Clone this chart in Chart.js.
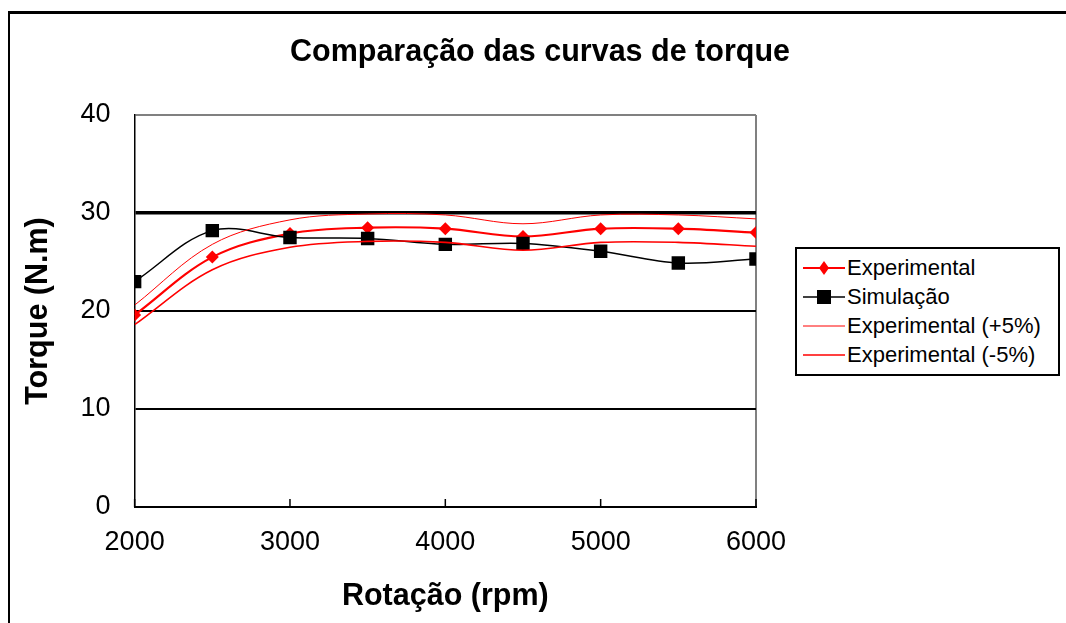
<!DOCTYPE html>
<html lang="pt">
<head>
  <meta charset="UTF-8">
  <title>Comparação das curvas de torque</title>
  <script src="https://cdn.jsdelivr.net/npm/chart.js"></script>
  <style>
    body {
      margin: 0;
      background: #ffffff;
      font-family: 'Liberation Sans', Arial, sans-serif;
    }
    .wrap {
      position: relative;
      width: 1066px;
      height: 623px;
      overflow: hidden;
    }
    .frame {
      position: absolute;
      left: 8px;
      top: 11px;
      width: 1100px;
      height: 700px;
      border-top: 3px solid #000;
      border-left: 2px solid #000;
    }
    canvas {
      position: absolute;
      left: 0;
      top: 0;
    }
    #title {
      position: absolute;
      left: 0;
      top: 32px;
      width: 1080px;
      text-align: center;
      font-size: 30.5px;
      line-height: 36px;
      font-weight: bold;
      color: #000;
    }
    #legend {
      position: absolute;
      left: 795px;
      top: 247px;
      width: 261px;
      height: 121px;
      border: 2px solid #000;
      background: #fff;
      padding-top: 4px;
      box-sizing: content-box;
    }
    .item {
      display: flex;
      align-items: center;
      height: 29px;
      font-size: 22px;
      color: #000;
    }
    .item svg {
      margin-left: 6px;
      margin-right: 2px;
    }
  </style>
</head>
<body>

<div class="wrap">
  <div class="frame"></div>
  <canvas id="torqueChart" width="1066" height="623"></canvas>
  <div id="title">Comparação das curvas de torque</div>
  <div id="legend"></div>
</div>

<script>
  // dados
  const rpm = [2000, 2500, 3000, 3500, 4000, 4500, 5000, 5500, 6000];
  const experimental = [19.6, 25.5, 27.9, 28.5, 28.4, 27.6, 28.4, 28.4, 28.0];
  const simulacao = [23.0, 28.2, 27.5, 27.4, 26.8, 26.9, 26.1, 24.9, 25.3];
  const expMais5 = [20.6, 26.8, 29.3, 29.9, 29.8, 28.9, 29.8, 29.8, 29.4];
  const expMenos5 = [18.6, 24.2, 26.5, 27.1, 27.0, 26.2, 27.0, 27.0, 26.6];
  const seriesNames = ['Experimental', 'Simulação', 'Experimental (+5%)', 'Experimental (-5%)'];
  const xTicks = [2000, 3000, 4000, 5000, 6000];
  const yTicks = [0, 10, 20, 30, 40];

  const pts = (vals) => rpm.map((r, i) => ({ x: r, y: vals[i] }));

  const styles = [
    { color: '#ff0000', width: 2.2, point: 'rectRot', radius: 6.5 },
    { color: '#000000', width: 1.5, point: 'rect', radius: 9.5 },
    { color: '#ff0000', width: 1, point: false, radius: 0 },
    { color: '#ff0000', width: 1.6, point: false, radius: 0 }
  ];
  const allData = [experimental, simulacao, expMais5, expMenos5];

  const datasets = allData.map((vals, i) => ({
    label: seriesNames[i],
    data: pts(vals),
    borderColor: styles[i].color,
    backgroundColor: styles[i].color,
    borderWidth: styles[i].width,
    pointStyle: styles[i].point || 'circle',
    pointRadius: styles[i].radius,
    pointBorderWidth: 0,
    pointHoverRadius: styles[i].radius,
    tension: 0.35,
    fill: false,
    order: 4 - i
  }));

  // small tick marks pointing into the plot on the x axis
  const innerTicks = {
    id: 'innerTicks',
    afterDatasetsDraw(chart) {
      const xs = chart.scales.x;
      const ctx = chart.ctx;
      ctx.save();
      ctx.strokeStyle = '#000';
      ctx.lineWidth = 1.5;
      xTicks.forEach(v => {
        const px = xs.getPixelForValue(v);
        ctx.beginPath();
        ctx.moveTo(px, xs.top);
        ctx.lineTo(px, xs.top - 8);
        ctx.stroke();
      });
      ctx.restore();
    }
  };

  const titleFont = { family: 'Liberation Sans', size: 30.5, weight: 'bold' };
  const tickFont = { family: 'Liberation Sans', size: 27 };

  const chart = new Chart(document.getElementById('torqueChart'), {
    type: 'line',
    data: { datasets: datasets },
    options: {
      responsive: false,
      animation: false,
      layout: { padding: { left: 20, right: 310, top: 115, bottom: 8 } },
      plugins: {
        legend: { display: false },
        tooltip: { enabled: false },
        title: { display: false }
      },
      scales: {
        x: {
          type: 'linear',
          min: 2000,
          max: 6000,
          afterBuildTicks: (s) => { s.ticks = xTicks.map(v => ({ value: v })); },
          ticks: {
            color: '#000',
            padding: 19,
            maxRotation: 0,
            font: tickFont,
            callback: (v) => String(v)
          },
          grid: {
            drawTicks: false,
            lineWidth: 2,
            color: (c) => c.tick && c.tick.value === 6000 ? '#808080' : 'rgba(0,0,0,0)'
          },
          border: { color: '#000', width: 2 },
          title: {
            display: true,
            text: 'Rotação (rpm)',
            color: '#000',
            font: titleFont,
            padding: { top: 1, bottom: 0 }
          }
        },
        y: {
          min: 0,
          max: 40,
          afterBuildTicks: (s) => { s.ticks = yTicks.map(v => ({ value: v })); },
          ticks: {
            color: '#000',
            padding: 24,
            font: tickFont,
            callback: (v) => String(v)
          },
          grid: {
            drawTicks: false,
            color: (c) => c.tick && c.tick.value === 40 ? '#808080' : '#000',
            lineWidth: (c) => c.tick && c.tick.value === 30 ? 3.5 : 2
          },
          border: { color: '#000', width: 1.5 },
          title: {
            display: true,
            text: 'Torque (N.m)',
            color: '#000',
            font: titleFont,
            padding: { top: 0, bottom: 0 }
          }
        }
      }
    },
    plugins: [innerTicks]
  });

  // legenda em HTML
  const legend = document.getElementById('legend');
  styles.forEach((s, i) => {
    let marker = '';
    if (s.point === 'rectRot') {
      marker = '<polygon points="21,4 26,11 21,18 16,11" fill="' + s.color + '"/>';
    } else if (s.point === 'rect') {
      marker = '<rect x="14" y="4" width="14" height="14" fill="' + s.color + '"/>';
    }
    legend.insertAdjacentHTML('beforeend',
      '<div class="item"><svg width="42" height="22">' +
      '<line x1="0" y1="11" x2="42" y2="11" stroke="' + s.color + '" stroke-width="' + s.width + '"/>' +
      marker + '</svg><span>' + seriesNames[i] + '</span></div>');
  });
</script>

</body>
</html>
